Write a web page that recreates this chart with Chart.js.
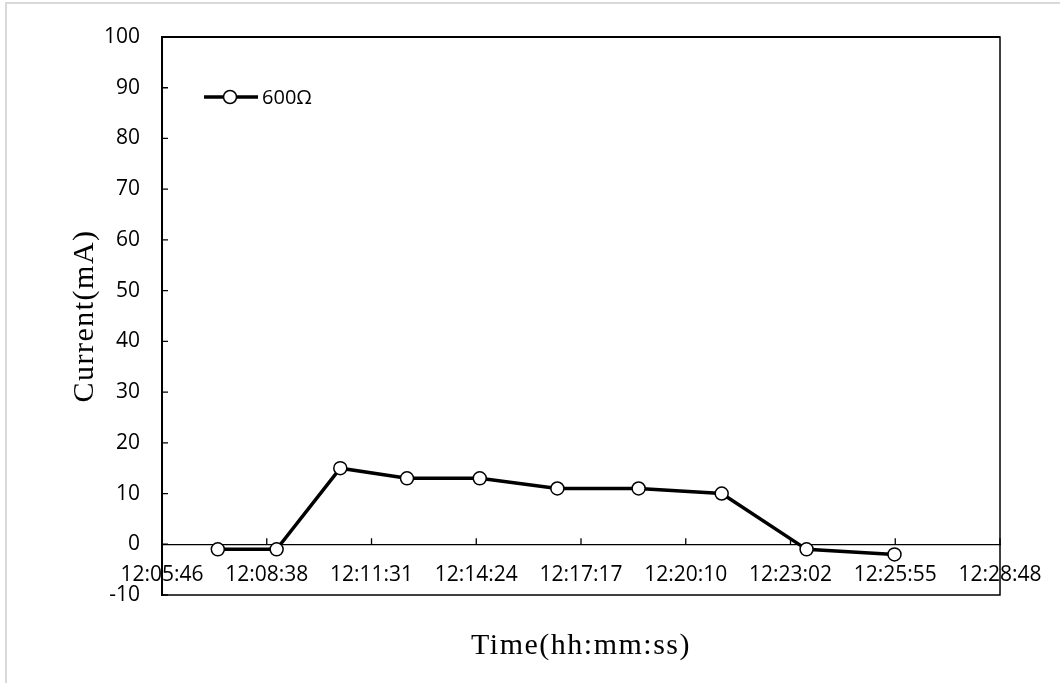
<!DOCTYPE html>
<html>
<head>
<meta charset="utf-8">
<script src="https://cdn.jsdelivr.net/npm/chart.js@4.4.1/dist/chart.umd.min.js"></script>
<style>
html, body { margin: 0; padding: 0; background: #fff; }
#wrap { width: 1060px; height: 683px; }
</style>
</head>
<body>
<div id="wrap"><canvas id="chartCurrent"></canvas></div>
<script>
// sample times and readings
const times = ['12:07:18', '12:08:55', '12:10:40', '12:12:30', '12:14:30',
  '12:16:38', '12:18:52', '12:21:09', '12:23:29', '12:25:54'];
const current = [-1, -1, 15, 13, 13, 11, 11, 10, -1, -2];
const seriesLabel = '600Ω';
// axis tick labels (Excel style)
const xTickLabels = ['12:05:46', '12:08:38', '12:11:31', '12:14:24', '12:17:17',
  '12:20:10', '12:23:02', '12:25:55', '12:28:48'];
const xMin = '12:05:46';
const xMax = '12:28:48';
const yMin = -10, yMax = 100, yStep = 10;

function toSec(t) {
  const p = t.split(':').map(Number);
  return p[0] * 3600 + p[1] * 60 + p[2];
}

const xStep = (toSec(xMax) - toSec(xMin)) / (xTickLabels.length - 1);
const points = times.map((t, i) => ({ x: toSec(t), y: current[i] }));

const titleFont = '30px "Liberation Serif", "DejaVu Serif", serif';
const tickFont = { family: '"Open Sans", sans-serif', size: 21 };

function drawTitle(ctx, text) {
  ctx.font = titleFont;
  ctx.letterSpacing = '1.5px';
  ctx.fillStyle = '#000';
  ctx.textAlign = 'center';
  ctx.textBaseline = 'middle';
  ctx.fillText(text, 0, 0);
}

const framePlugin = {
  id: 'frame',
  beforeDraw(chart) {
    const ctx = chart.ctx;
    ctx.save();
    ctx.strokeStyle = '#d9d9d9';
    ctx.lineWidth = 2;
    ctx.strokeRect(6, 3, 2000, 2000);
    ctx.restore();
  },
  afterDatasetsDraw(chart) {
    const ctx = chart.ctx;
    const a = chart.chartArea;
    const xs = chart.scales.x, ys = chart.scales.y;
    ctx.save();
    // plot border
    ctx.strokeStyle = '#000';
    ctx.lineWidth = 1.5;
    ctx.strokeRect(a.left, a.top, a.right - a.left, a.bottom - a.top);
    ctx.lineWidth = 2;
    ctx.beginPath();
    ctx.moveTo(a.left, a.top);
    ctx.lineTo(a.right, a.top);
    ctx.moveTo(a.left, a.top);
    ctx.lineTo(a.left, a.bottom);
    ctx.stroke();
    // inward tick marks
    ctx.lineWidth = 1.3;
    ctx.beginPath();
    const y0 = ys.getPixelForValue(0);
    xs.ticks.forEach(t => {
      const px = xs.getPixelForValue(t.value);
      ctx.moveTo(px, y0);
      ctx.lineTo(px, y0 - 6);
    });
    ys.ticks.forEach(t => {
      const py = ys.getPixelForValue(t.value);
      ctx.moveTo(a.left, py);
      ctx.lineTo(a.left + 6, py);
    });
    ctx.stroke();
    ctx.restore();
  },
  afterDraw(chart) {
    const ctx = chart.ctx;
    const a = chart.chartArea;
    const ds = chart.data.datasets[0];
    ctx.save();
    // legend inside plot
    const ly = a.top + 60;
    ctx.strokeStyle = '#000';
    ctx.lineWidth = 3.5;
    ctx.beginPath();
    ctx.moveTo(a.left + 42, ly);
    ctx.lineTo(a.left + 96, ly);
    ctx.stroke();
    ctx.beginPath();
    ctx.arc(a.left + 68, ly, 6.5, 0, Math.PI * 2);
    ctx.fillStyle = '#fff';
    ctx.fill();
    ctx.lineWidth = 1.5;
    ctx.stroke();
    ctx.fillStyle = '#000';
    ctx.font = '20px "Open Sans", sans-serif';
    ctx.textBaseline = 'middle';
    ctx.fillText(ds.label, a.left + 100, ly + 1);
    ctx.restore();
    // axis titles
    ctx.save();
    ctx.translate((a.left + a.right) / 2, a.bottom + 51);
    drawTitle(ctx, 'Time(hh:mm:ss)');
    ctx.restore();
    ctx.save();
    ctx.translate(85, (a.top + a.bottom) / 2);
    ctx.rotate(-Math.PI / 2);
    drawTitle(ctx, 'Current(mA)');
    ctx.restore();
  }
};

new Chart(document.getElementById('chartCurrent').getContext('2d'), {
  type: 'line',
  data: {
    datasets: [{
      label: seriesLabel,
      data: points,
      borderColor: '#000',
      borderWidth: 3.5,
      pointRadius: 6.5,
      pointBackgroundColor: '#fff',
      pointBorderColor: '#000',
      pointBorderWidth: 1.5,
      tension: 0
    }]
  },
  options: {
    responsive: true,
    maintainAspectRatio: false,
    animation: false,
    layout: { padding: { top: 37, right: 60, bottom: 88, left: 82 } },
    plugins: {
      legend: { display: false },
      tooltip: { enabled: false }
    },
    scales: {
      x: {
        type: 'linear',
        position: { y: 0 },
        min: toSec(xMin),
        max: toSec(xMax),
        afterBuildTicks(scale) {
          scale.ticks = xTickLabels.map((l, i) => ({ value: toSec(xMin) + i * xStep }));
        },
        grid: { display: false, drawTicks: false },
        border: { display: true, color: '#000', width: 1.3 },
        ticks: {
          autoSkip: false,
          maxRotation: 0,
          padding: 18,
          color: '#000',
          font: tickFont,
          callback: (v, i) => xTickLabels[i]
        }
      },
      y: {
        min: yMin,
        max: yMax,
        grid: { display: false, drawTicks: false },
        border: { display: true, color: '#000', width: 2 },
        ticks: {
          stepSize: yStep,
          padding: 22,
          color: '#000',
          font: tickFont
        }
      }
    }
  },
  plugins: [framePlugin]
});
</script>
</body>
</html>
